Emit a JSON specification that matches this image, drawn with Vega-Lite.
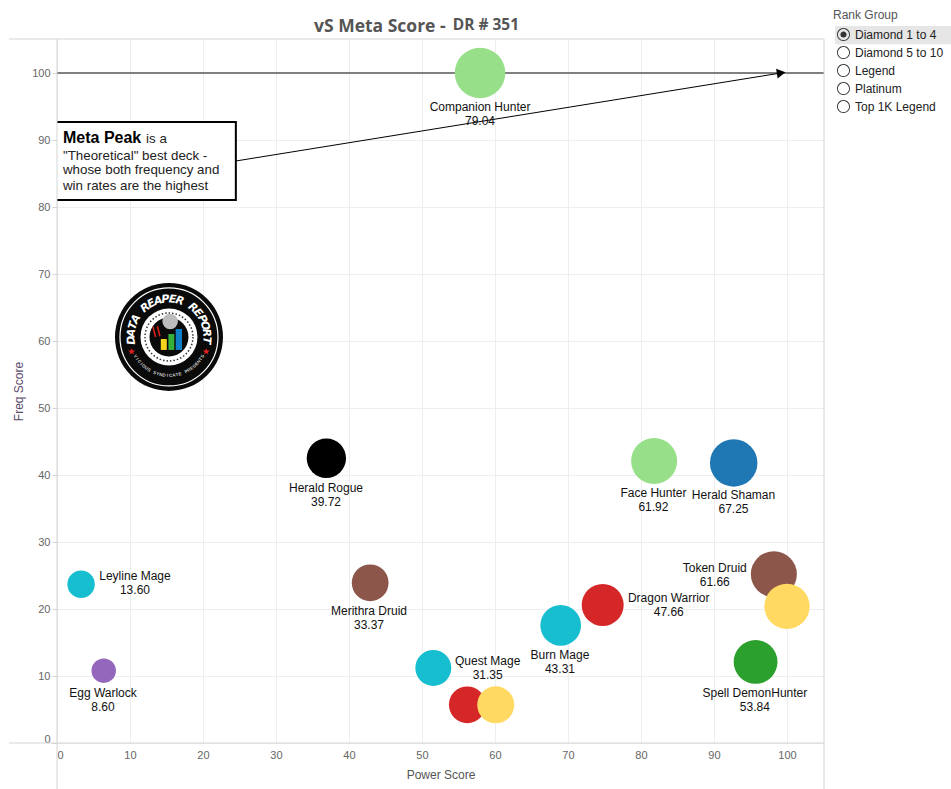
{
  "$schema": "https://vega.github.io/schema/vega-lite/v6.json",
  "autosize": "none",
  "width": 767,
  "height": 704,
  "padding": {"left": 57, "top": 39, "right": 127, "bottom": 46},
  "background": "white",
  "title": {
    "text": "vS Meta Score -",
    "anchor": "start",
    "frame": "group",
    "dx": 257,
    "dy": 32,
    "offset": 7,
    "font": "Open Sans",
    "fontSize": 17.5,
    "fontWeight": "bold",
    "color": "#555555"
  },
  "config": {
    "view": {"stroke": null},
    "font": "Liberation Sans"
  },
  "datasets": {
    "decks": [
      {"deck": "Companion Hunter", "cls": "Hunter", "rank": "Diamond 1 to 4", "power": 57.95, "freq": 100, "score": 79.04, "lx": 57.95, "ly": 93.9},
      {"deck": "Herald Rogue", "cls": "Rogue", "rank": "Diamond 1 to 4", "power": 36.9, "freq": 42.5, "score": 39.72, "lx": 36.85, "ly": 37.0},
      {"deck": "Face Hunter", "cls": "Hunter", "rank": "Diamond 1 to 4", "power": 81.8, "freq": 42.1, "score": 61.92, "lx": 81.7, "ly": 36.3},
      {"deck": "Herald Shaman", "cls": "Shaman", "rank": "Diamond 1 to 4", "power": 92.7, "freq": 41.8, "score": 67.25, "lx": 92.67, "ly": 36.0},
      {"deck": "Leyline Mage", "cls": "Mage", "rank": "Diamond 1 to 4", "power": 3.3, "freq": 23.7, "score": 13.6, "lx": 10.68, "ly": 23.9},
      {"deck": "Egg Warlock", "cls": "Warlock", "rank": "Diamond 1 to 4", "power": 6.4, "freq": 10.8, "score": 8.6, "lx": 6.3, "ly": 6.46},
      {"deck": "Merithra Druid", "cls": "Druid", "rank": "Diamond 1 to 4", "power": 42.9, "freq": 23.9, "score": 33.37, "lx": 42.74, "ly": 18.66},
      {"deck": "Token Druid", "cls": "Druid", "rank": "Diamond 1 to 4", "power": 98.2, "freq": 25.2, "score": 61.66, "lx": 90.1, "ly": 25.1},
      {"deck": "Dragon Warrior", "cls": "Warrior", "rank": "Diamond 1 to 4", "power": 74.75, "freq": 20.6, "score": 47.66, "lx": 83.8, "ly": 20.6},
      {"deck": "Burn Mage", "cls": "Mage", "rank": "Diamond 1 to 4", "power": 69.0, "freq": 17.55, "score": 43.31, "lx": 68.9, "ly": 12.09},
      {"deck": "Quest Mage", "cls": "Mage", "rank": "Diamond 1 to 4", "power": 51.55, "freq": 11.2, "score": 31.35, "lx": 59.0, "ly": 11.2},
      {"deck": "Spell DemonHunter", "cls": "DemonHunter", "rank": "Diamond 1 to 4", "power": 95.7, "freq": 12.1, "score": 53.84, "lx": 95.6, "ly": 6.45},
      {"cls": "Paladin", "rank": "Diamond 1 to 4", "power": 100, "freq": 20.4, "score": 59.2},
      {"cls": "Warrior", "rank": "Diamond 1 to 4", "power": 56.2, "freq": 5.7, "score": 33.2},
      {"cls": "Paladin", "rank": "Diamond 1 to 4", "power": 60.1, "freq": 5.7, "score": 33.9}
    ],
    "frame": [
      {"x": -6.58, "x2": 105.07, "y": 105.07, "y2": 105.07},
      {"x": -6.58, "x2": 105.07, "y": 0, "y2": 0},
      {"x": 0, "x2": 0, "y": 105.07, "y2": -6.87},
      {"x": 105.07, "x2": 105.07, "y": 105.07, "y2": -6.87}
    ],
    "logoLetters": [
      {"c": "D", "x": 10.22, "y": 60.11, "a": -95},
      {"c": "A", "x": 10.23, "y": 61.2, "a": -84},
      {"c": "T", "x": 10.44, "y": 62.27, "a": -73},
      {"c": "A", "x": 10.82, "y": 63.27, "a": -62},
      {"c": "R", "x": 12.1, "y": 64.94, "a": -39},
      {"c": "E", "x": 12.94, "y": 65.54, "a": -28},
      {"c": "A", "x": 13.86, "y": 65.96, "a": -17},
      {"c": "P", "x": 14.84, "y": 66.17, "a": -6},
      {"c": "E", "x": 15.84, "y": 66.17, "a": 6},
      {"c": "R", "x": 16.82, "y": 65.96, "a": 17},
      {"c": "R", "x": 18.58, "y": 64.94, "a": 39},
      {"c": "E", "x": 19.29, "y": 64.18, "a": 50},
      {"c": "P", "x": 19.86, "y": 63.27, "a": 62},
      {"c": "O", "x": 20.24, "y": 62.27, "a": 73},
      {"c": "R", "x": 20.45, "y": 61.2, "a": 84},
      {"c": "T", "x": 20.46, "y": 60.11, "a": 95}
    ],
    "logoSmall": [
      {"c": "V", "x": 10.71, "y": 57.69, "a": 60},
      {"c": "I", "x": 10.95, "y": 57.28, "a": 55},
      {"c": "C", "x": 11.23, "y": 56.89, "a": 50},
      {"c": "I", "x": 11.53, "y": 56.53, "a": 46},
      {"c": "O", "x": 11.85, "y": 56.19, "a": 41},
      {"c": "U", "x": 12.2, "y": 55.89, "a": 36},
      {"c": "S", "x": 12.57, "y": 55.62, "a": 31},
      {"c": "S", "x": 13.37, "y": 55.19, "a": 22},
      {"c": "Y", "x": 13.8, "y": 55.03, "a": 17},
      {"c": "N", "x": 14.23, "y": 54.91, "a": 12},
      {"c": "D", "x": 14.67, "y": 54.83, "a": 7},
      {"c": "I", "x": 15.12, "y": 54.79, "a": 2},
      {"c": "C", "x": 15.56, "y": 54.79, "a": -2},
      {"c": "A", "x": 16.01, "y": 54.83, "a": -7},
      {"c": "T", "x": 16.45, "y": 54.91, "a": -12},
      {"c": "E", "x": 16.88, "y": 55.03, "a": -17},
      {"c": "P", "x": 17.72, "y": 55.39, "a": -26},
      {"c": "R", "x": 18.11, "y": 55.62, "a": -31},
      {"c": "E", "x": 18.48, "y": 55.89, "a": -36},
      {"c": "S", "x": 18.83, "y": 56.19, "a": -41},
      {"c": "E", "x": 19.15, "y": 56.53, "a": -46},
      {"c": "N", "x": 19.45, "y": 56.89, "a": -50},
      {"c": "T", "x": 19.73, "y": 57.28, "a": -55},
      {"c": "S", "x": 19.97, "y": 57.69, "a": -60}
    ]
  },
  "encoding": {
    "x": {
      "type": "quantitative",
      "scale": {"domain": [0, 105.07], "nice": false, "zero": false}
    },
    "y": {
      "type": "quantitative",
      "scale": {"domain": [0, 105.07], "nice": false, "zero": false}
    }
  },
  "layer": [
    {
      "data": {"values": [{"x": 106.6, "x2": 122.5, "y": 107, "y2": 104.3}]},
      "mark": {"type": "rect", "color": "#e6e6e6"},
      "encoding": {
        "x": {"field": "x", "type": "quantitative", "axis": {
          "title": "Power Score", "values": [0,10,20,30,40,50,60,70,80,90,100], "grid": true, "gridColor": "#eeeeee",
          "domain": false, "ticks": false, "labelFlush": true, "labelFontSize": 11, "labelColor": "#666666", "labelPadding": 6,
          "titleFontSize": 12, "titleFontWeight": "normal", "titleColor": "#555555", "titlePadding": 9
        }},
        "x2": {"field": "x2"},
        "y": {"field": "y", "type": "quantitative", "axis": {
          "title": "Freq Score", "values": [0,10,20,30,40,50,60,70,80,90,100], "grid": true, "gridColor": "#eeeeee",
          "domain": false, "tickColor": "#d4d4d4", "tickSize": 5, "labelFlush": true, "labelOffset": 1, "labelFontSize": 11, "labelColor": "#666666", "labelPadding": 2,
          "titleFontSize": 12, "titleFontWeight": "normal", "titleColor": "#5a4a6a", "titlePadding": 6
        }},
        "y2": {"field": "y2"}
      }
    },
    {
      "data": {"values": [{"y": 100}]},
      "mark": {"type": "rule", "color": "#808080", "strokeWidth": 2},
      "encoding": {"y": {"field": "y", "type": "quantitative"}}
    },
    {
      "data": {"values": [{"x": 20, "y": 86.07, "x2": 99.2, "y2": 100}]},
      "mark": {"type": "rule", "color": "#000000", "strokeWidth": 1},
      "encoding": {
        "x": {"field": "x", "type": "quantitative"},
        "x2": {"field": "x2"},
        "y": {"field": "y", "type": "quantitative"},
        "y2": {"field": "y2"}
      }
    },
    {
      "data": {"values": [{"x": 99.2, "y": 100}]},
      "mark": {"type": "point", "shape": "triangle-right", "filled": true, "color": "#000000", "opacity": 1, "size": 100, "angle": 351},
      "encoding": {
        "x": {"field": "x", "type": "quantitative"},
        "y": {"field": "y", "type": "quantitative"}
      }
    },
    {
      "data": {"values": [{"x": -2, "x2": 24.5, "y": 92.7, "y2": 81.04}]},
      "mark": {"type": "rect", "fill": "#ffffff", "stroke": "#000000", "strokeWidth": 2, "clip": true},
      "encoding": {
        "x": {"field": "x", "type": "quantitative"},
        "x2": {"field": "x2"},
        "y": {"field": "y", "type": "quantitative"},
        "y2": {"field": "y2"}
      }
    },
    {
      "data": {"name": "frame"},
      "mark": {"type": "rule", "color": "#d4d4d4", "strokeWidth": 1},
      "encoding": {
        "x": {"field": "x", "type": "quantitative"},
        "x2": {"field": "x2"},
        "y": {"field": "y", "type": "quantitative"},
        "y2": {"field": "y2"}
      }
    },
    {
      "data": {"values": [{"x": 0.82, "y": 90.3, "t": "Meta Peak"}]},
      "mark": {"type": "text", "align": "left", "baseline": "middle", "font": "Liberation Sans", "fontSize": 16, "fontWeight": "bold", "color": "#000000"},
      "encoding": {
        "x": {"field": "x", "type": "quantitative"},
        "y": {"field": "y", "type": "quantitative"},
        "text": {"field": "t"}
      }
    },
    {
      "data": {"values": [
        {"x": 12.2, "y": 90.15, "t": "is a"},
        {"x": 0.82, "y": 87.65, "t": "\"Theoretical\" best deck -"},
        {"x": 0.82, "y": 85.45, "t": "whose both frequency and"},
        {"x": 0.82, "y": 83.2, "t": "win rates are the highest"}
      ]},
      "mark": {"type": "text", "align": "left", "baseline": "middle", "font": "Liberation Sans", "fontSize": 13.33, "color": "#222222"},
      "encoding": {
        "x": {"field": "x", "type": "quantitative"},
        "y": {"field": "y", "type": "quantitative"},
        "text": {"field": "t"}
      }
    },
    {
      "data": {"values": [{"x": 15.34, "y": 60.6}]},
      "mark": {"type": "circle", "size": 11664, "color": "#0a0a0a", "opacity": 1},
      "encoding": {"x": {"field": "x", "type": "quantitative"}, "y": {"field": "y", "type": "quantitative"}}
    },
    {
      "data": {"values": [{"x": 15.34, "y": 60.6}]},
      "mark": {"type": "circle", "size": 9604, "fillOpacity": 0, "stroke": "#ffffff", "strokeWidth": 1.2},
      "encoding": {"x": {"field": "x", "type": "quantitative"}, "y": {"field": "y", "type": "quantitative"}}
    },
    {
      "data": {"values": [{"x": 15.34, "y": 60.6}]},
      "mark": {"type": "circle", "size": 3249, "color": "#ffffff", "opacity": 1},
      "encoding": {"x": {"field": "x", "type": "quantitative"}, "y": {"field": "y", "type": "quantitative"}}
    },
    {
      "data": {"values": [{"x": 15.34, "y": 60.6}]},
      "mark": {"type": "circle", "size": 2304, "fillOpacity": 0, "stroke": "#333333", "strokeWidth": 1.5, "strokeDash": [1.5, 2]},
      "encoding": {"x": {"field": "x", "type": "quantitative"}, "y": {"field": "y", "type": "quantitative"}}
    },
    {
      "data": {"values": [{"x": 15.34, "y": 60.6}]},
      "mark": {"type": "circle", "size": 1521, "color": "#0a0a0a", "opacity": 1},
      "encoding": {"x": {"field": "x", "type": "quantitative"}, "y": {"field": "y", "type": "quantitative"}}
    },
    {
      "data": {"values": [{"x": 15.5, "y": 62.9}]},
      "mark": {"type": "circle", "size": 240, "color": "#bdbdbd", "opacity": 1},
      "encoding": {"x": {"field": "x", "type": "quantitative"}, "y": {"field": "y", "type": "quantitative"}}
    },
    {
      "data": {"values": [{"x": 13.15, "y": 62.1, "x2": 13.5, "y2": 60.6}, {"x": 13.75, "y": 62.2, "x2": 14.1, "y2": 60.7}]},
      "mark": {"type": "rule", "color": "#e0201c", "strokeWidth": 1.5},
      "encoding": {
        "x": {"field": "x", "type": "quantitative"},
        "x2": {"field": "x2"},
        "y": {"field": "y", "type": "quantitative"},
        "y2": {"field": "y2"}
      }
    },
    {
      "data": {"values": [{"x": 14.22, "x2": 15.04, "y": 58.66, "y2": 60.3}]},
      "mark": {"type": "rect", "color": "#f7d21e"},
      "encoding": {
        "x": {"field": "x", "type": "quantitative"},
        "x2": {"field": "x2"},
        "y": {"field": "y", "type": "quantitative"},
        "y2": {"field": "y2"}
      }
    },
    {
      "data": {"values": [{"x": 15.26, "x2": 16.07, "y": 58.66, "y2": 61.04}]},
      "mark": {"type": "rect", "color": "#35b03a"},
      "encoding": {
        "x": {"field": "x", "type": "quantitative"},
        "x2": {"field": "x2"},
        "y": {"field": "y", "type": "quantitative"},
        "y2": {"field": "y2"}
      }
    },
    {
      "data": {"values": [{"x": 16.26, "x2": 17.12, "y": 58.66, "y2": 61.79}]},
      "mark": {"type": "rect", "color": "#0f7fc8"},
      "encoding": {
        "x": {"field": "x", "type": "quantitative"},
        "x2": {"field": "x2"},
        "y": {"field": "y", "type": "quantitative"},
        "y2": {"field": "y2"}
      }
    },
    {
      "data": {"values": [{"x": 10.23, "y": 58.4}, {"x": 20.45, "y": 58.4}]},
      "mark": {"type": "point", "shape": "M0,-1L0.29,-0.31L1,-0.31L0.43,0.12L0.62,0.81L0,0.4L-0.62,0.81L-0.43,0.12L-1,-0.31L-0.29,-0.31Z", "filled": true, "color": "#e0201c", "opacity": 1, "size": 50},
      "encoding": {"x": {"field": "x", "type": "quantitative"}, "y": {"field": "y", "type": "quantitative"}}
    },
    {
      "data": {"name": "logoLetters"},
      "mark": {"type": "text", "font": "DejaVu Sans", "fontSize": 11, "fontWeight": "bold", "fontStyle": "italic", "color": "#ffffff", "align": "center", "baseline": "middle"},
      "encoding": {
        "x": {"field": "x", "type": "quantitative"},
        "y": {"field": "y", "type": "quantitative"},
        "text": {"field": "c"},
        "angle": {"field": "a", "type": "quantitative", "scale": null}
      }
    },
    {
      "data": {"name": "logoSmall"},
      "mark": {"type": "text", "font": "Liberation Sans", "fontSize": 4.5, "fontWeight": "bold", "color": "#cfcfcf", "align": "center", "baseline": "middle"},
      "encoding": {
        "x": {"field": "x", "type": "quantitative"},
        "y": {"field": "y", "type": "quantitative"},
        "text": {"field": "c"},
        "angle": {"field": "a", "type": "quantitative", "scale": null}
      }
    },
    {
      "data": {"name": "decks"},
      "mark": {"type": "circle", "opacity": 1},
      "encoding": {
        "x": {"field": "power", "type": "quantitative"},
        "y": {"field": "freq", "type": "quantitative"},
        "size": {
          "field": "score", "type": "quantitative", "legend": null,
          "scale": {"domain": [8.6, 43.31, 79.04], "range": [600, 1656, 2550]}
        },
        "color": {
          "field": "cls", "type": "nominal", "legend": null,
          "scale": {
            "domain": ["Hunter", "Rogue", "Shaman", "Mage", "Warlock", "Druid", "Warrior", "DemonHunter", "Paladin"],
            "range": ["#98df8a", "#000000", "#1f77b4", "#17becf", "#9467bd", "#8c564b", "#d62728", "#2ca02c", "#ffd961"]
          }
        }
      }
    },
    {
      "data": {"name": "decks"},
      "transform": [
        {"filter": "isValid(datum.deck)"},
        {"calculate": "datum.deck + '\\n' + format(datum.score, '.2f')", "as": "label"}
      ],
      "mark": {"type": "text", "lineBreak": "\n", "lineHeight": 14, "dy": -7, "align": "center", "baseline": "middle", "font": "Liberation Sans", "fontSize": 12, "color": "#111111"},
      "encoding": {
        "x": {"field": "lx", "type": "quantitative"},
        "y": {"field": "ly", "type": "quantitative"},
        "text": {"field": "label"}
      }
    },
    {
      "data": {"values": [{"x": 54.2, "y": 107.2, "t": "DR # 351"}]},
      "mark": {"type": "text", "align": "left", "baseline": "middle", "font": "Open Sans", "fontSize": 15.5, "fontWeight": "bold", "color": "#555555"},
      "encoding": {
        "x": {"field": "x", "type": "quantitative"},
        "y": {"field": "y", "type": "quantitative"},
        "text": {"field": "t"}
      }
    },
    {
      "data": {"name": "decks"},
      "mark": {"type": "point", "filled": true, "color": "#333333", "opacity": 0},
      "encoding": {
        "x": {"field": "power", "type": "quantitative"},
        "y": {"field": "freq", "type": "quantitative"},
        "shape": {
          "field": "rank", "type": "nominal",
          "scale": {
            "domain": ["Diamond 1 to 4", "Diamond 5 to 10", "Legend", "Platinum", "Top 1K Legend"],
            "range": [
              "M-1,0A1,1 0 1,0 1,0A1,1 0 1,0 -1,0ZM-0.86,0A0.86,0.86 0 1,1 0.86,0A0.86,0.86 0 1,1 -0.86,0ZM-0.48,0A0.48,0.48 0 1,0 0.48,0A0.48,0.48 0 1,0 -0.48,0Z",
              "M-1,0A1,1 0 1,0 1,0A1,1 0 1,0 -1,0ZM-0.86,0A0.86,0.86 0 1,1 0.86,0A0.86,0.86 0 1,1 -0.86,0Z",
              "M-1,0A1,1 0 1,0 1,0A1,1 0 1,0 -1,0ZM-0.86,0A0.86,0.86 0 1,1 0.86,0A0.86,0.86 0 1,1 -0.86,0Z",
              "M-1,0A1,1 0 1,0 1,0A1,1 0 1,0 -1,0ZM-0.86,0A0.86,0.86 0 1,1 0.86,0A0.86,0.86 0 1,1 -0.86,0Z",
              "M-1,0A1,1 0 1,0 1,0A1,1 0 1,0 -1,0ZM-0.86,0A0.86,0.86 0 1,1 0.86,0A0.86,0.86 0 1,1 -0.86,0Z"
            ]
          },
          "legend": {
            "title": "Rank Group",
            "orient": "none",
            "legendX": 776,
            "legendY": -29,
            "symbolSize": 169,
            "symbolOffset": 4,
            "symbolOpacity": 1,
            "symbolStrokeWidth": 0,
            "labelFont": "Liberation Sans",
            "labelFontSize": 12,
            "labelColor": "#222222",
            "labelOffset": 5,
            "rowPadding": 5,
            "titleFont": "Liberation Sans",
            "titleFontSize": 12,
            "titleFontWeight": "normal",
            "titleColor": "#555555",
            "titlePadding": 6
          }
        }
      }
    }
  ]
}
